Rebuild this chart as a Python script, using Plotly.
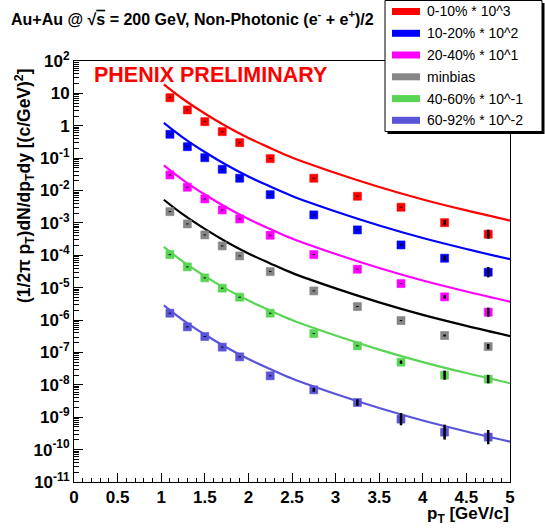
import plotly.graph_objects as go

# ---------------- data ----------------
pt = [1.1, 1.3, 1.5, 1.7, 1.9, 2.25, 2.75, 3.25, 3.75, 4.25, 4.75]

labels = ["0-10% * 10^3", "10-20% * 10^2", "20-40% * 10^1",
          "minbias", "40-60% * 10^-1", "60-92% * 10^-2"]

red_pts = [7.36, 3.08, 1.34, 0.658, 0.301, 0.0966, 0.0240, 0.00667, 0.00305, 0.00102, 0.000448]
blue_pts = [0.547, 0.226, 0.1035, 0.0454, 0.0240, 0.00747, 0.00177, 0.000608, 0.000209, 8.13e-5, 3.01e-5]
mag_pts = [0.0303, 0.01265, 0.00551, 0.00252, 0.00133, 0.000417, 0.000105, 3.72e-5, 1.34e-5, 5.2e-6, 1.75e-6]
mb_pts = [2.23e-3, 9.31e-4, 4.27e-4, 1.95e-4, 9.57e-5, 3.14e-5, 7.96e-6, 2.61e-6, 9.66e-7, 3.33e-7, 1.52e-7]
green_pts = [1.05e-4, 4.39e-5, 2.01e-5, 9.66e-6, 5.09e-6, 1.63e-6, 3.83e-7, 1.60e-7, 5.02e-8, 1.99e-8, 1.50e-8]
violet_pts = [1.63e-6, 6.17e-7, 3.10e-7, 1.46e-7, 7.31e-8, 1.90e-8, 7.01e-9, 2.84e-9, 8.73e-10, 3.47e-10, 2.43e-10]

# error half-size in decades
red_err = [0.015, 0.015, 0.015, 0.015, 0.015, 0.015, 0.015, 0.015, 0.015, 0.08, 0.14]
blue_err = [0.015, 0.015, 0.015, 0.015, 0.015, 0.015, 0.015, 0.015, 0.03, 0.08, 0.16]
mag_err = [0.015, 0.015, 0.015, 0.015, 0.015, 0.015, 0.015, 0.015, 0.015, 0.05, 0.14]
mb_err = [0.015, 0.015, 0.015, 0.015, 0.015, 0.015, 0.015, 0.015, 0.015, 0.03, 0.08]
green_err = [0.015, 0.015, 0.015, 0.015, 0.015, 0.015, 0.015, 0.015, 0.05, 0.14, 0.13]
violet_err = [0.015, 0.015, 0.015, 0.015, 0.015, 0.015, 0.06, 0.10, 0.19, 0.23, 0.22]

# fit curves
curve_pt = [1.03, 1.25, 1.5, 1.75, 2.0, 2.25, 2.5, 3.0, 3.5, 4.0, 4.5, 5.0]
red_fit = [19.1, 6.71, 2.40, 0.951, 0.420, 0.2065, 0.1052, 0.0349, 0.0129, 5.31e-3, 2.43e-3, 1.18e-3]
blue_fit = [1.230, 0.4325, 0.1545, 0.0612, 0.0270, 0.0133, 6.78e-3, 2.25e-3, 8.32e-4, 3.42e-4, 1.567e-4, 7.59e-5]
mag_fit = [5.998e-2, 2.109e-2, 7.534e-3, 2.985e-3, 1.318e-3, 6.486e-4, 3.304e-4, 1.096e-4, 4.055e-5, 1.667e-5, 7.638e-6, 3.698e-6]
mb_fit = [5.200e-3, 1.828e-3, 6.531e-4, 2.588e-4, 1.143e-4, 5.623e-5, 2.864e-5, 9.506e-6, 3.516e-6, 1.445e-6, 6.622e-7, 3.206e-7]
green_fit = [1.816e-4, 6.383e-5, 2.280e-5, 9.036e-6, 3.990e-6, 1.963e-6, 1.0e-6, 3.319e-7, 1.227e-7, 5.047e-8, 2.312e-8, 1.119e-8]
violet_fit = [2.844e-6, 1.0e-6, 3.573e-7, 1.416e-7, 6.252e-8, 3.076e-8, 1.567e-8, 5.200e-9, 1.923e-9, 7.907e-10, 3.622e-10, 1.754e-10]

y_tick_vals = [1e2, 1e1, 1e0, 1e-1, 1e-2, 1e-3, 1e-4, 1e-5, 1e-6, 1e-7, 1e-8, 1e-9, 1e-10, 1e-11]
y_tick_text = ["10<sup>2</sup>", "10", "1", "10<sup>-1</sup>", "10<sup>-2</sup>", "10<sup>-3</sup>",
               "10<sup>-4</sup>", "10<sup>-5</sup>", "10<sup>-6</sup>", "10<sup>-7</sup>",
               "10<sup>-8</sup>", "10<sup>-9</sup>", "10<sup>-10</sup>", "10<sup>-11</sup>"]

# ---------------- styles ----------------
marker_colors = ["#ff0000", "#0000ff", "#ff00ff", "#868686", "#59d454", "#5954d8"]
line_colors = ["#ff0000", "#0000ff", "#ff00ff", "#000000", "#59d454", "#5954d8"]
FONT = "Liberation Sans, Arial, Helvetica, sans-serif"

series_pts = [red_pts, blue_pts, mag_pts, mb_pts, green_pts, violet_pts]
series_err = [red_err, blue_err, mag_err, mb_err, green_err, violet_err]
series_fit = [red_fit, blue_fit, mag_fit, mb_fit, green_fit, violet_fit]

fig = go.Figure()

for i in range(6):
    fig.add_trace(go.Scatter(x=curve_pt, y=series_fit[i], mode="lines",
                             line=dict(color=line_colors[i], width=2.2, shape="spline"),
                             hoverinfo="skip"))

for i in range(6):
    vals = series_pts[i]
    errs = series_err[i]
    plus = [v * (10 ** e - 1) for v, e in zip(vals, errs)]
    minus = [v * (1 - 10 ** (-e)) for v, e in zip(vals, errs)]
    fig.add_trace(go.Scatter(x=pt, y=vals, mode="markers",
                             marker=dict(symbol="square", size=8, color=marker_colors[i],
                                         line=dict(width=0.6, color=marker_colors[i])),
                             hoverinfo="skip"))
    # error bars drawn on top of the markers
    fig.add_trace(go.Scatter(x=pt, y=vals, mode="markers",
                             marker=dict(size=1, opacity=0),
                             error_y=dict(type="data", symmetric=False, array=plus, arrayminus=minus,
                                          color="black", thickness=2.5, width=0),
                             hoverinfo="skip"))

L, R, T, B = 74, 35, 61, 47
W, H = 545, 529
PW, PH = W - L - R, H - T - B


def px(x):
    return (x - L) / PW


def py(y):
    return (H - B - y) / PH


shapes = []
annotations = []

# legend (manual, ROOT style)
lx0, lx1, ly0, ly1 = 385, 542, 0.5, 131.5
shapes.append(dict(type="rect", xref="paper", yref="paper",
                   x0=px(lx0 + 2.5), x1=px(lx1 + 2.5), y0=py(ly1 + 2.5), y1=py(ly0 + 2.5),
                   fillcolor="black", line=dict(width=0)))
shapes.append(dict(type="rect", xref="paper", yref="paper",
                   x0=px(lx0), x1=px(lx1), y0=py(ly1), y1=py(ly0),
                   fillcolor="white", line=dict(color="black", width=1)))
row_y = [11.5, 33.3, 55, 76.8, 98.6, 120.3]
for i in range(6):
    yc = row_y[i]
    shapes.append(dict(type="rect", xref="paper", yref="paper",
                       x0=px(392), x1=px(420), y0=py(yc + 3.5), y1=py(yc - 3.5),
                       fillcolor=marker_colors[i], line=dict(width=0)))
    annotations.append(dict(xref="paper", yref="paper", x=px(425), y=py(yc),
                            xanchor="left", yanchor="middle", showarrow=False,
                            text=labels[i], font=dict(family=FONT, size=14, color="black")))

# title
annotations.append(dict(xref="paper", yref="paper", x=px(9), y=py(18), xanchor="left", yanchor="middle",
                        showarrow=False,
                        text="Au+Au @ √<span style='text-decoration:overline'>s</span> = 200 GeV, Non-Photonic (e<sup>-</sup> + e<sup>+</sup>)/2",
                        font=dict(family=FONT, size=16, color="black", weight=700)))
# preliminary label
annotations.append(dict(xref="paper", yref="paper", x=px(92), y=py(75), xanchor="left", yanchor="middle",
                        showarrow=False, text="PHENIX PRELIMINARY",
                        font=dict(family=FONT, size=21.5, color="#ff0000", weight=700)))
# y title
annotations.append(dict(xref="paper", yref="paper", x=px(24), y=py(186), xanchor="center", yanchor="middle",
                        showarrow=False, textangle=-90,
                        text="(1/2π p<sub>T</sub>)dN/dp<sub>T</sub>dy [(c/GeV)<sup>2</sup>]",
                        font=dict(family=FONT, size=17.5, color="black", weight=700)))
# x title
annotations.append(dict(xref="paper", yref="paper", x=px(511), y=py(515), xanchor="right", yanchor="middle",
                        showarrow=False, text="p<sub>T</sub> [GeV/c]",
                        font=dict(family=FONT, size=17, color="black", weight=700)))

fig.update_layout(
    width=W, height=H,
    margin=dict(l=L, r=R, t=T, b=B, autoexpand=False),
    paper_bgcolor="white", plot_bgcolor="white",
    showlegend=False, hovermode=False,
    shapes=shapes, annotations=annotations,
    xaxis=dict(range=[0, 5], showgrid=False, zeroline=False,
               showline=True, linecolor="black", linewidth=1, mirror=True,
               ticks="inside", ticklen=9, tickcolor="black", tickwidth=1,
               tick0=0, dtick=0.5,
               minor=dict(ticks="inside", ticklen=4.5, tickcolor="black", dtick=0.1, showgrid=False),
               tickfont=dict(family=FONT, size=17, color="black", weight=700)),
    yaxis=dict(type="log", range=[-11.0005, 2.0005], showgrid=False, zeroline=False,
               showline=True, linecolor="black", linewidth=1, mirror=True,
               ticks="inside", ticklen=9, tickcolor="black", tickwidth=1,
               tickvals=y_tick_vals, ticktext=y_tick_text,
               minor=dict(ticks="inside", ticklen=4.5, tickcolor="black", dtick="D1", showgrid=False),
               tickfont=dict(family=FONT, size=17, color="black", weight=700)),
)

fig.write_html("out.html", config={"displayModeBar": False},
               post_script="document.body.style.margin='0';document.body.style.padding='0';")
